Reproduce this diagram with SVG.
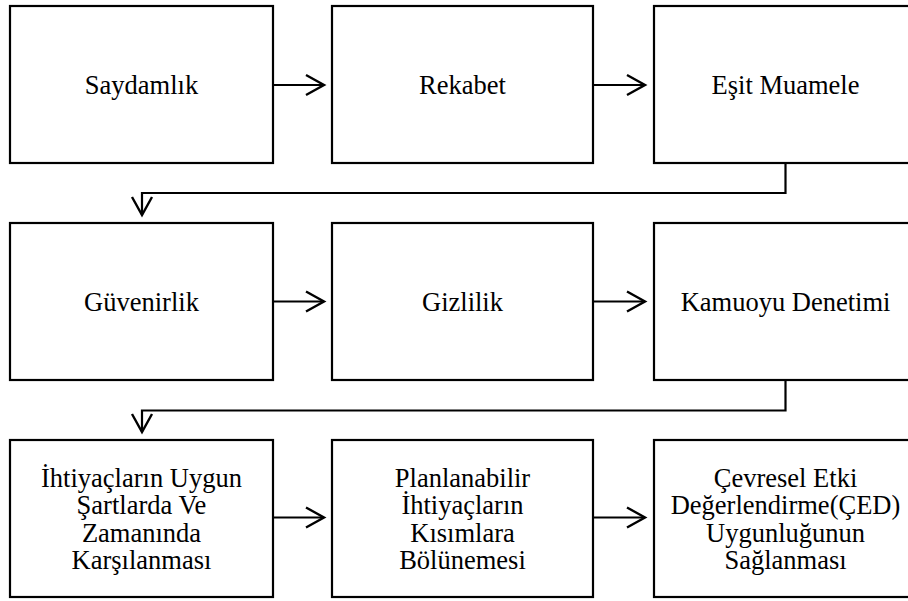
<svg xmlns="http://www.w3.org/2000/svg" width="908" height="601" viewBox="0 0 908 601">
<style>
.box{fill:#fff;stroke:#000;stroke-width:2.2}
.c{fill:none;stroke:#000;stroke-width:2.2}
</style>
<defs>
<marker id="ah" markerUnits="userSpaceOnUse" markerWidth="24" markerHeight="24" refX="19" refY="12" orient="auto" viewBox="0 0 24 24">
<path d="M1,2 L19,12 L1,22" fill="none" stroke="#000" stroke-width="2.4"/>
</marker>
</defs>
<rect width="908" height="601" fill="#fff"/>
<g font-family="Liberation Serif, Times New Roman, serif" font-size="26.5" text-anchor="middle" fill="#000">
<g id="n1"><rect class="box" x="10" y="6" width="263" height="157"/><text x="141.5" y="94">Saydamlık</text></g>
<g id="n2"><rect class="box" x="332" y="6" width="261" height="157"/><text x="462.5" y="94">Rekabet</text></g>
<g id="n3"><rect class="box" x="654" y="6" width="263" height="157"/><text x="785.5" y="94">Eşit Muamele</text></g>
<g id="n4"><rect class="box" x="10" y="223" width="263" height="157"/><text x="141.5" y="311">Güvenirlik</text></g>
<g id="n5"><rect class="box" x="332" y="223" width="261" height="157"/><text x="462.5" y="311">Gizlilik</text></g>
<g id="n6"><rect class="box" x="654" y="223" width="263" height="157"/><text x="785.5" y="311">Kamuoyu Denetimi</text></g>
<g id="n7"><rect class="box" x="10" y="440" width="263" height="157"/><text x="141.5"><tspan x="141.5" y="486.5">İhtiyaçların Uygun</tspan><tspan x="141.5" y="514">Şartlarda Ve</tspan><tspan x="141.5" y="541.5">Zamanında</tspan><tspan x="141.5" y="569">Karşılanması</tspan></text></g>
<g id="n8"><rect class="box" x="332" y="440" width="261" height="157"/><text x="462.5"><tspan x="462.5" y="486.5">Planlanabilir</tspan><tspan x="462.5" y="514">İhtiyaçların</tspan><tspan x="462.5" y="541.5">Kısımlara</tspan><tspan x="462.5" y="569">Bölünemesi</tspan></text></g>
<g id="n9"><rect class="box" x="654" y="440" width="263" height="157"/><text x="785.5"><tspan x="785.5" y="486.5">Çevresel Etki</tspan><tspan x="785.5" y="514">Değerlendirme(ÇED)</tspan><tspan x="785.5" y="541.5">Uygunluğunun</tspan><tspan x="785.5" y="569">Sağlanması</tspan></text></g>
</g>
<g id="connectors">
<path class="c" d="M273,85 H324" marker-end="url(#ah)"/>
<path class="c" d="M593,85 H645" marker-end="url(#ah)"/>
<path class="c" d="M785.5,163 V193 H142 V215" marker-end="url(#ah)"/>
<path class="c" d="M273,301.5 H324" marker-end="url(#ah)"/>
<path class="c" d="M593,301.5 H645" marker-end="url(#ah)"/>
<path class="c" d="M785.5,380 V410.5 H142 V432" marker-end="url(#ah)"/>
<path class="c" d="M273,517.5 H324" marker-end="url(#ah)"/>
<path class="c" d="M593,517.5 H645" marker-end="url(#ah)"/>
</g>
</svg>
